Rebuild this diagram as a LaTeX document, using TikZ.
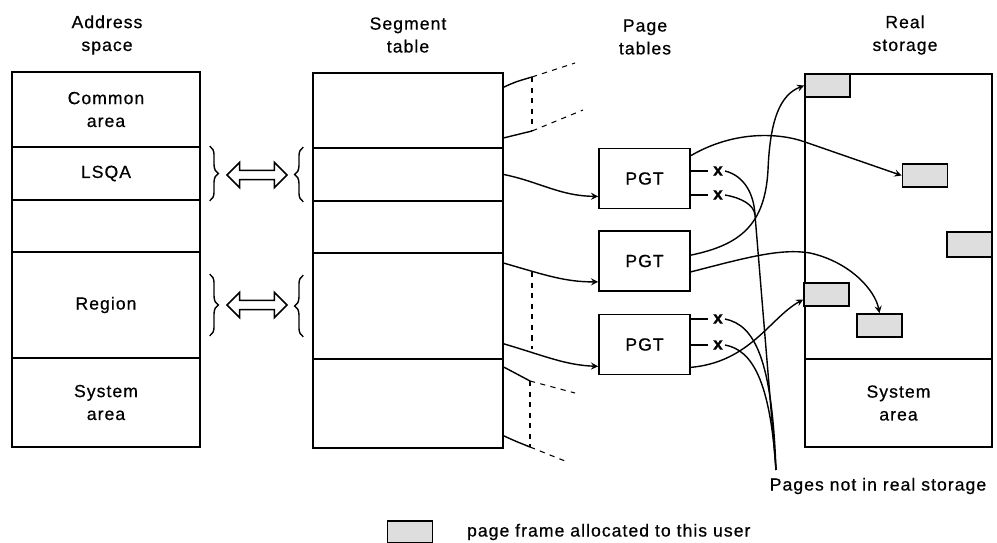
\documentclass[tikz,border=0pt]{standalone}
\usepackage{fontspec}
\setmainfont{Liberation Sans}[LetterSpace=6,FakeBold=0.6]
\usetikzlibrary{decorations.pathreplacing,shapes.arrows,positioning}

\tikzset{
  cell/.style={draw,line width=1pt,minimum width=3.76cm,inner sep=0pt,align=center},
  pgtbox/.style={draw,line width=1pt,minimum width=1.82cm,minimum height=1.2cm},
  pframe/.style={draw,line width=1pt,fill=black!13,minimum width=0.9cm,minimum height=0.46cm,inner sep=0pt},
  heading/.style={align=center},
  xmark/.style={inner sep=1pt,font=\fontsize{10}{13}\selectfont\bfseries},
  brc/.style={decorate,decoration={brace,amplitude=5pt},line width=0.8pt},
  dblarrow/.style={draw,line width=0.9pt,double arrow,double arrow head extend=4.5pt,minimum height=1.2cm,inner sep=2.2pt},
  ptr/.style={line width=0.8pt,->},
  stub/.style={semithick,dashed},
}

\begin{document}
\begin{tikzpicture}[x=0.02cm,y=-0.02cm,>=stealth,font=\fontsize{10}{13}\selectfont]
\useasboundingbox (0,0) rectangle (997,543);

%Column headings
    \node[heading] (hAS) at (107,35) {Address\\space};
    \node[heading] (hST) at (408,35) {Segment\\table};
    \node[heading] (hPT) at (645,37) {Page\\tables};
    \node[heading] (hRS) at (905,35) {Real\\storage};

%Address space
    \node[cell,minimum height=1.5cm] (as1) at (106,109.5) {Common\\area};
    \node[cell,minimum height=1.06cm] (as2) at (106,173.5) {LSQA};
    \node[cell,minimum height=1.04cm] (as3) at (106,226) {};
    \node[cell,minimum height=2.12cm] (as4) at (106,305) {Region};
    \node[cell,minimum height=1.78cm] (as5) at (106,402.5) {System\\area};

%Segment table rows
    \foreach \n/\yc/\h in {1/110.5/1.5,2/174.5/1.06,3/227/1.04,4/306/2.12,5/403.5/1.78}
        {
        \node[cell,minimum width=3.8cm,minimum height=\h cm] (seg\n) at (408,\yc) {};
    }

%Braces and the double arrows between them
    \draw[brc] ([xshift=5pt]as2.north east) -- ([xshift=5pt]as2.south east);
    \draw[brc] ([xshift=-5pt]seg2.south west) -- ([xshift=-5pt]seg2.north west);
    \node[dblarrow] (arr1) at (257,175) {};
    \draw[brc] ([xshift=5pt,yshift=-0.46cm]as4.north east) -- ([xshift=5pt,yshift=0.46cm]as4.south east);
    \draw[brc] ([xshift=-5pt,yshift=0.46cm]seg4.south west) -- ([xshift=-5pt,yshift=-0.46cm]seg4.north west);
    \node[dblarrow] (arr2) at (257,305) {};

%Page tables
    \node[pgtbox] (pgt1) at (644.5,178.5) {PGT};
    \node[pgtbox] (pgt2) at (644.5,261) {PGT};
    \node[pgtbox] (pgt3) at (644.5,344.5) {PGT};

%Pages that are not in real storage
    \node[xmark] (x1a) at (718,171) {x};
    \node[xmark] (x1b) at (718,195) {x};
    \node[xmark] (x3a) at (718,319) {x};
    \node[xmark] (x3b) at (718,345) {x};
    \draw[line width=0.8pt] (pgt1.east |- x1a) -- ([xshift=-2pt]x1a.west);
    \draw[line width=0.8pt] (pgt1.east |- x1b) -- ([xshift=-2pt]x1b.west);
    \draw[line width=0.8pt] (pgt3.east |- x3a) -- ([xshift=-2pt]x3a.west);
    \draw[line width=0.8pt] (pgt3.east |- x3b) -- ([xshift=-2pt]x3b.west);

%Real storage with its page frames
    \node[cell,minimum width=3.74cm,minimum height=5.7cm] (rs1) at (898.5,216.5) {};
    \node[cell,minimum width=3.74cm,minimum height=1.76cm] (rs2) at (898.5,403) {System\\area};
    \node[pframe,anchor=north west] (fr1) at (rs1.north west) {};
    \node[pframe] (fr2) at (925,175.5) {};
    \node[pframe,anchor=north east,minimum height=0.5cm] (fr3) at (rs1.east |- 0,231) {};
    \node[pframe] (fr4) at (826.5,294.5) {};
    \node[pframe] (fr5) at (879.5,325.5) {};

%Segment table entries to page tables
    \draw[ptr] (seg2.east) .. controls (540,182) and (560,196) .. ([yshift=0.26cm]pgt1.south west);
    \draw[ptr] ([yshift=-0.22cm]seg4.north east) .. controls (545,275) and (565,282) .. ([yshift=0.2cm]pgt2.south west);
    \draw[ptr] ([yshift=0.32cm]seg4.south east) .. controls (545,356) and (565,365) .. ([yshift=0.18cm]pgt3.south west);
    \draw[stub] (532,272) -- (532,349);

%Entries whose page tables are not shown
    \draw[line width=0.8pt] ([yshift=-0.3cm]seg1.north east) .. controls (515,82) .. (532,77) coordinate (s1a);
    \draw[stub] (s1a) -- (575,63);
    \draw[line width=0.8pt] ([yshift=0.22cm]seg1.south east) .. controls (518,134) .. (532,131) coordinate (s1b);
    \draw[stub] (s1b) -- (583,110);
    \draw[stub] (s1a) -- (s1b);
    \draw[line width=0.8pt] ([yshift=-0.18cm]seg5.north east) .. controls (515,373) .. (530,381) coordinate (s5a);
    \draw[stub] (s5a) -- (575,393);
    \draw[line width=0.8pt] ([yshift=0.26cm]seg5.south east) .. controls (515,441) .. (530,447) coordinate (s5b);
    \draw[stub] (s5b) -- (565,461);
    \draw[stub] (s5a) -- (s5b);

%Page tables to page frames
    \draw[ptr] ([yshift=-0.16cm]pgt1.north east) .. controls (735,130) and (780,133) .. (805,142) -- (fr2.west);
    \draw[ptr] ([yshift=-0.5cm]pgt2.north east) .. controls (740,245) and (765,225) .. (768,170) .. controls (770,120) and (780,95) .. (fr1.west);
    \draw[ptr] ([yshift=0.4cm]pgt2.south east) .. controls (745,258) and (780,248) .. (810,253) .. controls (850,262) and (875,290) .. (fr5.north);
    \draw[ptr] ([yshift=0.16cm]pgt3.south east) .. controls (750,362) and (770,318) .. ([yshift=-0.1cm]fr4.west);

%Label for the missing pages
    \node (pnr) at (878,486) {Pages not in real storage};
    \coordinate (meet) at (776,470);
    \draw[line width=0.8pt] (x1a.east) .. controls (745,176) and (754,195) .. (755,215) -- (meet);
    \draw[line width=0.8pt] (x1b.east) .. controls (742,198) and (754,205) .. (755,215);
    \draw[line width=0.8pt] (x3a.east) .. controls (755,325) and (772,360) .. (meet);
    \draw[line width=0.8pt] (x3b.east) .. controls (752,350) and (770,380) .. (meet);

%Legend
    \node[pframe,minimum height=0.44cm] (lgd) at (410,532) {};
    \node[right=0.55cm of lgd] (lgdtxt) {page frame allocated to this user};
\end{tikzpicture}
\end{document}
